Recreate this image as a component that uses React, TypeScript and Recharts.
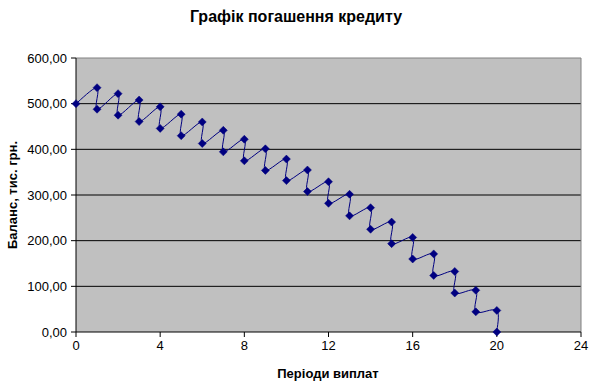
import { CartesianGrid, ReferenceLine, Scatter, ScatterChart, XAxis, YAxis } from 'recharts';

// періоди: у кожному періоді спершу нараховано відсотки (стрибок вгору), потім платіж (спад)
const periods = [0, 1, 1, 2, 2, 3, 3, 4, 4, 5, 5, 6, 6, 7, 7, 8, 8, 9, 9, 10, 10, 11, 11, 12, 12, 13, 13, 14, 14, 15, 15, 16, 16, 17, 17, 18, 18, 19, 19, 20, 20];
const balance = [
  500.0, 535.0, 487.8, 521.95, 474.75, 507.99, 460.79, 493.04, 445.85, 477.06, 429.86,
  459.95, 412.76, 441.65, 394.45, 422.06, 374.87, 401.11, 353.91, 378.68, 331.49,
  354.69, 307.5, 329.02, 281.82, 301.55, 254.35, 272.16, 224.96, 240.71, 193.51,
  207.06, 159.86, 171.05, 123.86, 132.53, 85.33, 91.3, 44.11, 47.19, 0.0,
];
const xTicks = [0, 4, 8, 12, 16, 20, 24];
const yTicks = [0, 100, 200, 300, 400, 500, 600];
const gridValues = [100, 200, 300, 400, 500];

const data = periods.map((p, i) => ({ x: p, y: balance[i] }));

const NAVY = '#000080';
const FONT = '"Liberation Sans", Arial, sans-serif';

// згладжена лінія як в Excel (catmull-rom через кубічні безьє)
const excelSmooth = (context: any) => {
  let pts: number[][] = [];
  return {
    areaStart() {},
    areaEnd() {},
    lineStart() {
      pts = [];
    },
    point(x: number, y: number) {
      pts.push([+x, +y]);
    },
    lineEnd() {
      if (!pts.length) return;
      context.moveTo(pts[0][0], pts[0][1]);
      for (let i = 0; i < pts.length - 1; i++) {
        const p0 = pts[i - 1] || pts[i];
        const p1 = pts[i];
        const p2 = pts[i + 1];
        const p3 = pts[i + 2] || p2;
        context.bezierCurveTo(
          p1[0] + (p2[0] - p0[0]) / 6,
          p1[1] + (p2[1] - p0[1]) / 6,
          p2[0] - (p3[0] - p1[0]) / 6,
          p2[1] - (p3[1] - p1[1]) / 6,
          p2[0],
          p2[1]
        );
      }
    },
  };
};

const Diamond = (props: any) => {
  const { cx, cy } = props;
  const r = 4;
  return <path d={`M${cx},${cy - r}L${cx + r},${cy}L${cx},${cy + r}L${cx - r},${cy}Z`} fill={NAVY} stroke={NAVY} strokeWidth={0.5} />;
};

const fmt = (v: number) => v.toFixed(2).replace('.', ',');

const App = () => {
  return (
    <div style={{ position: 'absolute', left: 0, top: 0, width: 593, height: 391, background: '#fff' }}>
      <ScatterChart width={593} height={391} margin={{ top: 58, right: 12, bottom: 29, left: 16 }}>
        <CartesianGrid fill="#c0c0c0" stroke="#000" strokeWidth={1} vertical={false} horizontalValues={gridValues} />
        <XAxis
          type="number"
          dataKey="x"
          domain={[0, 24]}
          ticks={xTicks}
          height={30}
          stroke="#000"
          tickSize={5}
          tickMargin={4}
          tick={{ fill: '#000', fontSize: 13, fontFamily: FONT }}
        />
        <YAxis
          type="number"
          dataKey="y"
          domain={[0, 600]}
          ticks={yTicks}
          width={60}
          stroke="#000"
          tickSize={5}
          tickMargin={4}
          tickFormatter={fmt}
          tick={{ fill: '#000', fontSize: 13, fontFamily: FONT }}
        />
        <ReferenceLine y={600} stroke="#808080" />
        <ReferenceLine x={24} stroke="#808080" />
        <Scatter
          data={data}
          line={{ stroke: NAVY, strokeWidth: 1 }}
          lineJointType={excelSmooth as any}
          shape={<Diamond />}
          fill={NAVY}
          isAnimationActive={false}
        />
      </ScatterChart>
      <svg width={593} height={391} style={{ position: 'absolute', left: 0, top: 0, pointerEvents: 'none' }}>
        <text x={296} y={22} textAnchor="middle" fontFamily={FONT} fontSize={16} fontWeight="bold" fill="#000">
          Графік погашення кредиту
        </text>
        <text x={328} y={378} textAnchor="middle" fontFamily={FONT} fontSize={13} fontWeight="bold" fill="#000">
          Періоди виплат
        </text>
        <text
          x={0}
          y={0}
          transform="translate(17,195) rotate(-90)"
          textAnchor="middle"
          fontFamily={FONT}
          fontSize={13}
          fontWeight="bold"
          fill="#000"
        >
          Баланс, тис. грн.
        </text>
      </svg>
    </div>
  );
};

export default App;
